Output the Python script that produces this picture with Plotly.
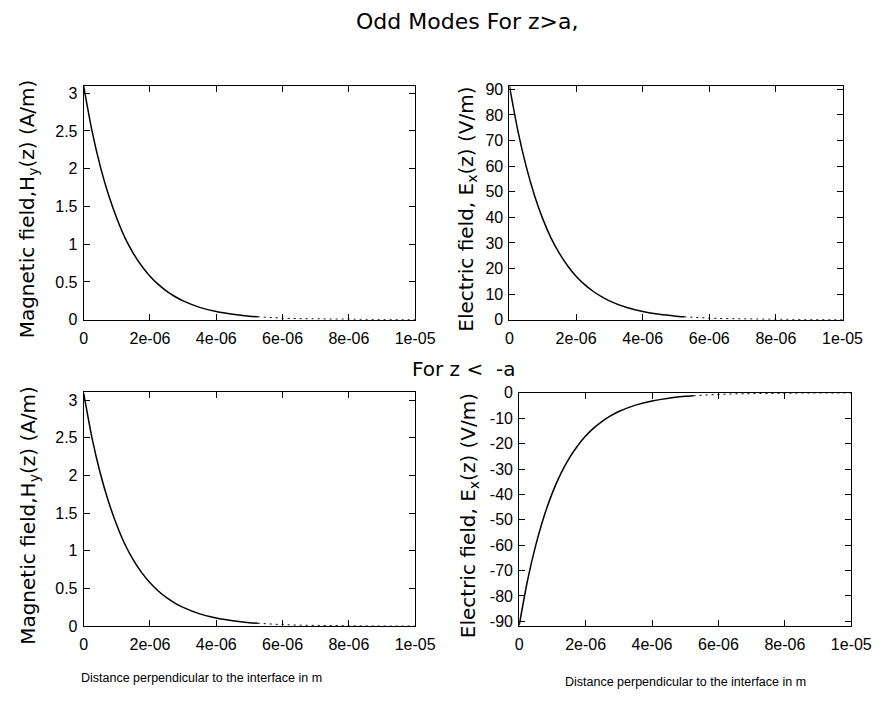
import plotly.graph_objects as go

W, H = 893, 711

# distance along z (m)
z = [0, 0.25e-6, 0.5e-6, 0.75e-6, 1.0e-6, 1.25e-6, 1.5e-6, 1.75e-6, 2.0e-6, 2.25e-6,
     2.5e-6, 2.75e-6, 3.0e-6, 3.5e-6, 4.0e-6, 4.5e-6, 5.0e-6, 5.25e-6, 5.5e-6, 6.0e-6,
     6.5e-6, 7.0e-6, 7.5e-6, 8.0e-6, 8.5e-6, 9.0e-6, 9.5e-6, 1.0e-5]

# z > a
hy_top = [3.09, 2.50, 2.03, 1.65, 1.34, 1.08, 0.876, 0.71, 0.576, 0.467,
          0.378, 0.307, 0.249, 0.163, 0.107, 0.071, 0.046, 0.038, 0.030, 0.020,
          0.013, 0.0087, 0.0057, 0.0037, 0.0025, 0.0016, 0.0011, 0.0007]
ex_top = [91.3, 74.0, 60.0, 48.6, 39.4, 31.9, 25.9, 21.0, 17.0, 13.8,
          11.2, 9.07, 7.35, 4.83, 3.17, 2.08, 1.37, 1.11, 0.90, 0.59,
          0.39, 0.256, 0.168, 0.110, 0.072, 0.047, 0.031, 0.020]
# z < -a
hy_bot = [3.09, 2.50, 2.03, 1.65, 1.34, 1.08, 0.876, 0.71, 0.576, 0.467,
          0.378, 0.307, 0.249, 0.163, 0.107, 0.071, 0.046, 0.038, 0.030, 0.020,
          0.013, 0.0087, 0.0057, 0.0037, 0.0025, 0.0016, 0.0011, 0.0007]
ex_bot = [-91.6, -74.0, -60.0, -48.6, -39.4, -31.9, -25.9, -21.0, -17.0, -13.8,
          -11.2, -9.07, -7.35, -4.83, -3.17, -2.08, -1.37, -1.11, -0.90, -0.59,
          -0.39, -0.256, -0.168, -0.110, -0.072, -0.047, -0.031, -0.020]

x_ticks = [0, 2e-6, 4e-6, 6e-6, 8e-6, 1e-5]
x_tick_text = ["0", "2e-06", "4e-06", "6e-06", "8e-06", "1e-05"]
hy_ticks = [0, 0.5, 1, 1.5, 2, 2.5, 3]
ex_top_ticks = [0, 10, 20, 30, 40, 50, 60, 70, 80, 90]
ex_bot_ticks = [0, -10, -20, -30, -40, -50, -60, -70, -80, -90]

title_main = "Odd Modes For z>a,"
title_sub = "For z &lt;&nbsp; -a"
hy_label = "Magnetic field,H<sub>y</sub>(z) (A/m)"
ex_label = "Electric field, E<sub>x</sub>(z) (V/m)"
x_label = "Distance perpendicular to the interface in m"

SPLIT = 17  # index where the curve turns dotted

def px_x(a, b):
    return [a / W, b / W]

def px_y(top, bottom):
    return [1 - bottom / H, 1 - top / H]

panels = [
    dict(x=px_x(82, 423), y=px_y(80, 319.3), data=hy_top, yr=[0, 3.094], ticks=hy_ticks),
    dict(x=px_x(520, 862.7), y=px_y(80, 319.3), data=ex_top, yr=[0, 91.3], ticks=ex_top_ticks),
    dict(x=px_x(82, 423), y=px_y(393.3, 633.3), data=hy_bot, yr=[0, 3.109], ticks=hy_ticks),
    dict(x=px_x(530, 871.7), y=px_y(394.3, 633.3), data=ex_bot, yr=[-91.9, 0], ticks=ex_bot_ticks),
]

fig = go.Figure()
tickfont = dict(family="Liberation Sans, Arial, sans-serif", size=16, color="black")
layout = {}
for i, p in enumerate(panels, start=1):
    xa = "x" if i == 1 else f"x{i}"
    ya = "y" if i == 1 else f"y{i}"
    fig.add_trace(go.Scatter(x=z[:SPLIT + 1], y=p["data"][:SPLIT + 1], mode="lines",
                             line=dict(color="black", width=1.5, shape="spline", smoothing=0.6),
                             xaxis=xa, yaxis=ya, showlegend=False, hoverinfo="skip"))
    fig.add_trace(go.Scatter(x=z[SPLIT:], y=p["data"][SPLIT:], mode="lines",
                             line=dict(color="black", width=1, dash="2px,4px"),
                             xaxis=xa, yaxis=ya, showlegend=False, hoverinfo="skip"))
    common = dict(showline=True, linecolor="black", linewidth=1, mirror="allticks",
                  ticks="inside", ticklen=6, tickwidth=1, tickcolor="black",
                  showgrid=False, zeroline=False, tickfont=tickfont)
    layout[f"xaxis{i if i > 1 else ''}"] = dict(
        domain=p["x"], range=[0, 1e-5], tickvals=x_ticks, ticktext=x_tick_text,
        anchor=ya, ticklabelstandoff=4, **common)
    layout[f"yaxis{i if i > 1 else ''}"] = dict(
        domain=p["y"], range=p["yr"], tickvals=p["ticks"],
        ticktext=[("%g" % v) for v in p["ticks"]], anchor=xa, ticklabelstandoff=2, **common)

fig.update_layout(**layout)

ann_font = dict(family="DejaVu Sans, sans-serif", size=20, color="black")
xt_font = dict(family="Liberation Sans Narrow, Arial Narrow, Liberation Sans", size=12.5, color="black")
annotations = [
    dict(text=title_main, x=476 / W, y=1 - 14 / H, font=dict(family="DejaVu Sans", size=22, color="black")),
    dict(text=title_sub, x=473 / W, y=1 - 370 / H, font=dict(family="DejaVu Sans", size=20, color="black")),
    dict(text=hy_label, x=25 / W, y=1 - 206 / H, textangle=-90, font=ann_font),
    dict(text=ex_label, x=476 / W, y=1 - 206 / H, textangle=-90, font=ann_font),
    dict(text=hy_label, x=25 / W, y=1 - 520 / H, textangle=-90, font=ann_font),
    dict(text=ex_label, x=478 / W, y=1 - 520 / H, textangle=-90, font=ann_font),
    dict(text=x_label, x=203 / W, y=1 - 686 / H, font=xt_font),
    dict(text=x_label, x=701 / W, y=1 - 690 / H, font=xt_font),
]
for a in annotations:
    a.update(xref="paper", yref="paper", showarrow=False, xanchor="center", yanchor="middle")

fig.update_layout(width=W, height=H, margin=dict(l=0, r=0, t=0, b=0),
                  paper_bgcolor="white", plot_bgcolor="white", annotations=annotations)

fig.write_html("out.html")
